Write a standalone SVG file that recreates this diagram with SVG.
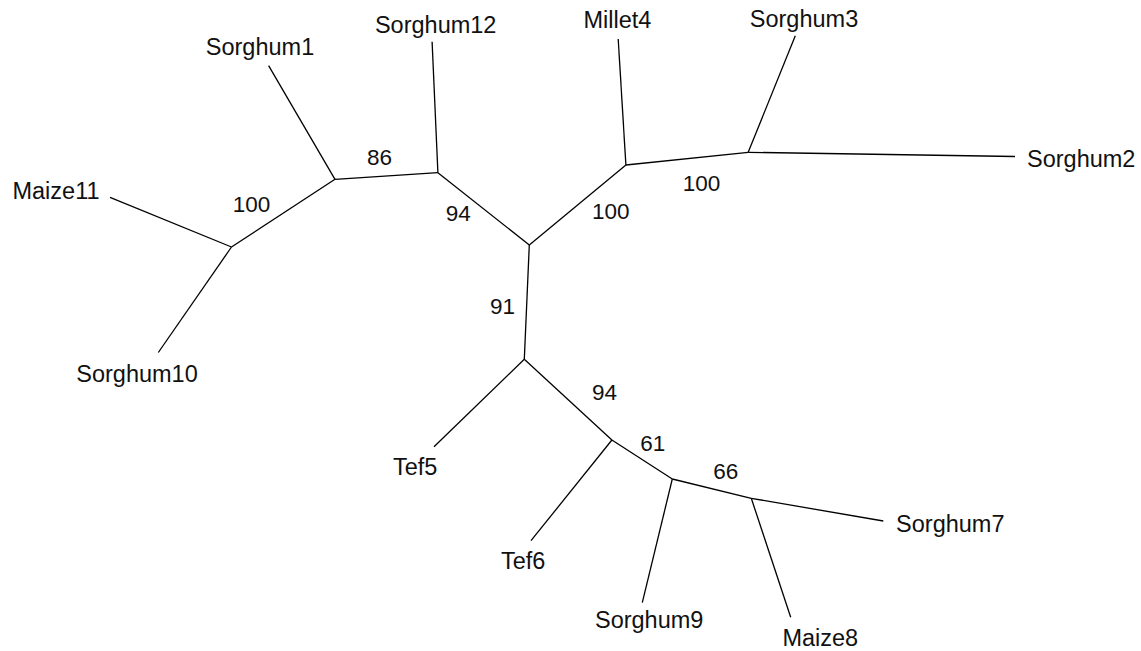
<svg xmlns="http://www.w3.org/2000/svg" width="1141" height="651" viewBox="0 0 1141 651">
  <style>
    .br { stroke: #000; stroke-width: 1.3; fill: none; stroke-linecap: butt; }
    .lbl { font-family: "Liberation Sans", Arial, sans-serif; font-size: 23.5px; fill: #111; text-anchor: middle; }
    .bs { font-family: "Liberation Sans", Arial, sans-serif; font-size: 22.5px; fill: #111; text-anchor: middle; }
  </style>
  <rect width="1141" height="651" fill="#fff"/>

  <!-- branches of the unrooted tree -->
  <g id="connectors">
    <!-- left clade -->
    <line class="br" x1="529.3" y1="245" x2="437.9" y2="172.7"/>
    <line class="br" x1="437.9" y1="172.7" x2="432.1" y2="41.7"/>
    <line class="br" x1="437.9" y1="172.7" x2="335" y2="179.3"/>
    <line class="br" x1="335" y1="179.3" x2="268.6" y2="65.7"/>
    <line class="br" x1="335" y1="179.3" x2="231.5" y2="247"/>
    <line class="br" x1="231.5" y1="247" x2="110" y2="197.3"/>
    <line class="br" x1="231.5" y1="247" x2="158.3" y2="352.5"/>
    <!-- upper right clade -->
    <line class="br" x1="529.3" y1="245" x2="625.9" y2="165"/>
    <line class="br" x1="625.9" y1="165" x2="618.2" y2="39"/>
    <line class="br" x1="625.9" y1="165" x2="748.2" y2="152.3"/>
    <line class="br" x1="748.2" y1="152.3" x2="795.3" y2="35.7"/>
    <line class="br" x1="748.2" y1="152.3" x2="1015" y2="156.5"/>
    <!-- lower clade -->
    <line class="br" x1="529.3" y1="245" x2="524.3" y2="359.3"/>
    <line class="br" x1="524.3" y1="359.3" x2="434" y2="446.7"/>
    <line class="br" x1="524.3" y1="359.3" x2="611.9" y2="440"/>
    <line class="br" x1="611.9" y1="440" x2="531" y2="540.7"/>
    <line class="br" x1="611.9" y1="440" x2="672.3" y2="479"/>
    <line class="br" x1="672.3" y1="479" x2="642.3" y2="602.7"/>
    <line class="br" x1="672.3" y1="479" x2="751.3" y2="498.3"/>
    <line class="br" x1="751.3" y1="498.3" x2="790.7" y2="617.3"/>
    <line class="br" x1="751.3" y1="498.3" x2="883.3" y2="521"/>
  </g>

  <!-- leaf labels -->
  <g id="Sorghum1"><text class="lbl" x="260" y="55">Sorghum1</text></g>
  <g id="Sorghum12"><text class="lbl" x="435.7" y="33">Sorghum12</text></g>
  <g id="Maize11"><text class="lbl" x="56" y="198.5">Maize11</text></g>
  <g id="Sorghum10"><text class="lbl" x="137" y="382">Sorghum10</text></g>
  <g id="Millet4"><text class="lbl" x="617.4" y="28.3">Millet4</text></g>
  <g id="Sorghum3"><text class="lbl" x="804" y="27.3">Sorghum3</text></g>
  <g id="Sorghum2"><text class="lbl" x="1027" y="166.7" style="text-anchor:start">Sorghum2</text></g>
  <g id="Tef5"><text class="lbl" x="415.2" y="475">Tef5</text></g>
  <g id="Tef6"><text class="lbl" x="523.2" y="569.3">Tef6</text></g>
  <g id="Sorghum9"><text class="lbl" x="649.2" y="628.3">Sorghum9</text></g>
  <g id="Maize8"><text class="lbl" x="820.3" y="646">Maize8</text></g>
  <g id="Sorghum7"><text class="lbl" x="950.3" y="532.3">Sorghum7</text></g>

  <!-- bootstrap support values -->
  <g id="bs-86"><text class="bs" x="379.5" y="165">86</text></g>
  <g id="bs-100-left"><text class="bs" x="251.5" y="211.7">100</text></g>
  <g id="bs-94-upper"><text class="bs" x="458.2" y="220.7">94</text></g>
  <g id="bs-91"><text class="bs" x="502.5" y="314">91</text></g>
  <g id="bs-100-upper"><text class="bs" x="701.5" y="191">100</text></g>
  <g id="bs-100-lower"><text class="bs" x="610.8" y="219">100</text></g>
  <g id="bs-94-lower"><text class="bs" x="604.5" y="400">94</text></g>
  <g id="bs-61"><text class="bs" x="652.7" y="450.7">61</text></g>
  <g id="bs-66"><text class="bs" x="725.8" y="479.3">66</text></g>
</svg>
